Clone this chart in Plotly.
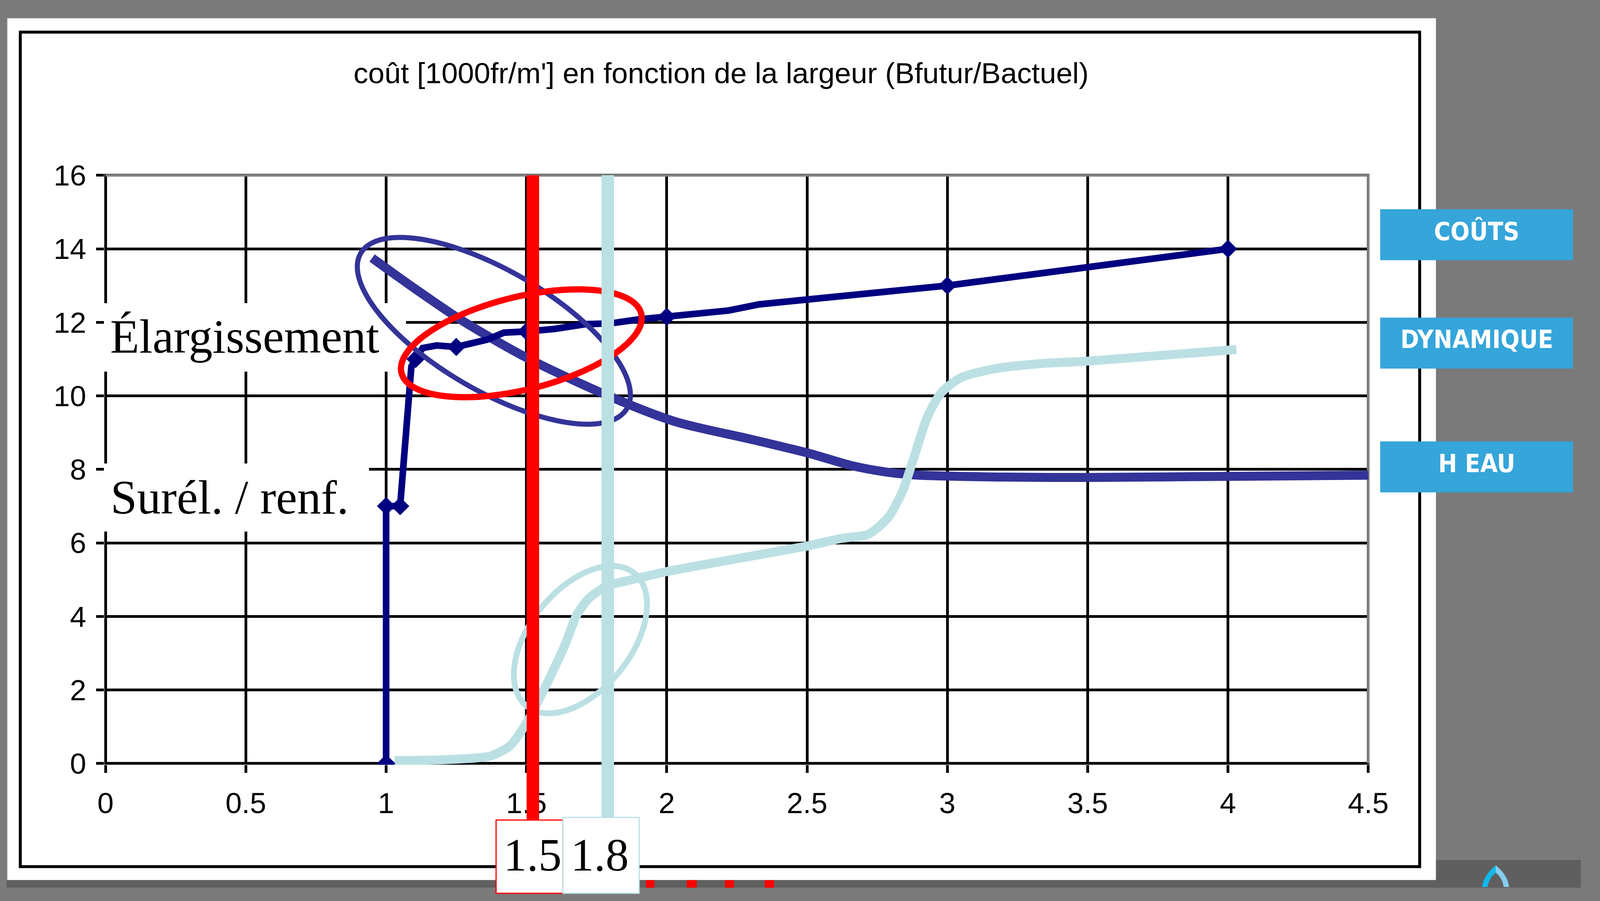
import math
import plotly.graph_objects as go

# ---------------- data ----------------
TITLE = "coût [1000fr/m'] en fonction de la largeur (Bfutur/Bactuel)"

cost_x = [1.0, 1.0, 1.05, 1.06, 1.07, 1.08, 1.09, 1.105, 1.13, 1.18, 1.25, 1.36, 1.42, 1.50,
          1.60, 1.71, 1.80, 1.90, 2.00, 2.22, 2.33, 2.73, 2.87, 3.00, 4.00]
cost_y = [0.0, 7.0, 7.0, 8.1, 9.0, 10.0, 10.8, 11.0, 11.3, 11.37, 11.33, 11.53, 11.72, 11.75,
          11.82, 11.95, 11.97, 12.08, 12.15, 12.32, 12.49, 12.79, 12.88, 13.0, 14.0]
cost_marker_x = [1.0, 1.0, 1.05, 1.105, 1.25, 1.50, 2.0, 3.0, 4.0]
cost_marker_y = [0.0, 7.0, 7.0, 11.0, 11.33, 11.75, 12.15, 13.0, 14.0]

dyn_x = [0.95, 1.10, 1.27, 1.50, 1.78, 2.03, 2.30, 2.51, 2.66, 2.78, 2.88, 3.20, 3.50, 4.00, 4.50]
dyn_y = [13.75, 12.93, 12.05, 11.04, 10.04, 9.30, 8.82, 8.43, 8.10, 7.93, 7.85, 7.79, 7.78, 7.81, 7.84]

heau_x = [1.03, 1.20, 1.37, 1.44, 1.50, 1.565, 1.636, 1.68, 1.724, 1.79, 1.86, 2.00, 2.25, 2.51,
          2.62, 2.72, 2.79, 2.84, 2.88, 2.93, 2.98, 3.05, 3.17, 3.32, 3.51, 4.03]
heau_y = [0.08, 0.10, 0.20, 0.47, 1.10, 2.05, 3.20, 4.05, 4.50, 4.84, 4.97, 5.22, 5.57, 5.93,
          6.12, 6.24, 6.70, 7.40, 8.30, 9.45, 10.10, 10.50, 10.74, 10.87, 10.95, 11.26]

x_tick_vals = [0, 0.5, 1, 1.5, 2, 2.5, 3, 3.5, 4, 4.5]
x_tick_text = ["0", "0.5", "1", "1.5", "2", "2.5", "3", "3.5", "4", "4.5"]
y_tick_vals = [0, 2, 4, 6, 8, 10, 12, 14, 16]
y_tick_text = ["0", "2", "4", "6", "8", "10", "12", "14", "16"]

mark_values = [1.523, 1.79]
mark_labels = ["1.5", "1.8"]
zone_labels = ["Élargissement", "Surél. / renf."]
side_labels = ["COÛTS", "DYNAMIQUE", "H EAU"]

# ---------------- geometry (reference pixels) ----------------
W, H = 4236, 2307
X0PX, PXU = 266.0, 755.1
Y0PX, PYU = 1983.0, 97.375
HALF = 3.5
PADX, PADY = HALF / PXU, HALF / PYU
XR = [-PADX, 4.5 + PADX]
YR = [-PADY, 16 + PADY]
XDOM = [(X0PX - HALF) / W, (X0PX + 4.5 * PXU + HALF) / W]
YDOM = [1 - (Y0PX + HALF) / H, 1 - (Y0PX - 16 * PYU - HALF) / H]


def fx(p):
    return p / W


def fy(p):
    return 1 - p / H


def data_x_to_paper(x):
    return XDOM[0] + (x - XR[0]) / (XR[1] - XR[0]) * (XDOM[1] - XDOM[0])


def ellipse_path(cx, cy, a, b, theta_deg, n=180):
    th = math.radians(theta_deg)
    pts = []
    for i in range(n):
        t = 2 * math.pi * i / n
        x = cx + a * math.cos(t) * math.cos(th) - b * math.sin(t) * math.sin(th)
        y = cy + a * math.cos(t) * math.sin(th) + b * math.sin(t) * math.cos(th)
        pts.append(f"{fx(x):.6f},{fy(y):.6f}")
    return "M" + " L".join(pts) + " Z"


def prect(x0, x1, y0, y1, fill, layer="below", line=None):
    d = dict(type="rect", xref="paper", yref="paper", x0=fx(x0), x1=fx(x1),
             y0=fy(y1), y1=fy(y0), fillcolor=fill, layer=layer)
    d["line"] = line if line else dict(width=0)
    return d


NAVY = "#000080"
DYN = "#333399"
HEAU = "#BBE0E3"
RED = "#FF0000"
BTN = "#35A5DA"

fig = go.Figure()
fig.add_trace(go.Scatter(x=dyn_x, y=dyn_y, mode="lines",
                         line=dict(color=DYN, width=23, shape="spline", smoothing=0.8),
                         hoverinfo="skip"))
fig.add_trace(go.Scatter(x=heau_x, y=heau_y, mode="lines",
                         line=dict(color=HEAU, width=23, shape="spline", smoothing=0.7),
                         hoverinfo="skip"))
fig.add_trace(go.Scatter(x=cost_x, y=cost_y, mode="lines",
                         line=dict(color=NAVY, width=17), hoverinfo="skip"))
fig.add_trace(go.Scatter(x=cost_marker_x, y=cost_marker_y, mode="markers",
                         marker=dict(symbol="diamond", size=36, color=NAVY, line=dict(width=0)),
                         hoverinfo="skip"))

shapes = []
# slide background pieces
shapes.append(prect(0, 3846, 9, 2292, "white"))
shapes.append(prect(0, 2, 9, 2292, "#8a8a8a"))
shapes.append(prect(3846, W, 2239, H + 5, "#5f5f5f"))
shapes.append(prect(0, W, 2292, H + 5, "#5f5f5f"))
for a, b in [(1720, 1743), (1830, 1857), (1933, 1957), (2040, 2065)]:
    shapes.append(prect(a, b, 2292, H + 5, RED))
shapes.append(dict(type="path", xref="paper", yref="paper", layer="below",
                   path=f"M{fx(4007)},{fy(2253)} Q{fx(3975)},{fy(2278)} {fx(3970)},{fy(2310)} "
                        f"L{fx(3985)},{fy(2310)} Q{fx(3988)},{fy(2288)} {fx(4007)},{fy(2272)} Z",
                   fillcolor="#12B8EA", line=dict(width=0)))
shapes.append(dict(type="path", xref="paper", yref="paper", layer="below",
                   path=f"M{fx(4007)},{fy(2253)} Q{fx(4039)},{fy(2278)} {fx(4043)},{fy(2310)} "
                        f"L{fx(4028)},{fy(2310)} Q{fx(4026)},{fy(2288)} {fx(4007)},{fy(2272)} Z",
                   fillcolor="#86CDF0", line=dict(width=0)))
# black frame round the chart
shapes.append(dict(type="rect", xref="paper", yref="paper", layer="below",
                   x0=fx(36.75), x1=fx(3802.25), y0=fy(2256.25), y1=fy(45.75),
                   fillcolor="rgba(0,0,0,0)", line=dict(color="black", width=7.5)))
# side buttons
for (t0, t1) in [(515, 650), (802, 937), (1130, 1265)]:
    shapes.append(prect(3696, 4215, t0, t1, BTN))

# white text boxes hiding the grid
for (xa, xb, ya, yb) in [(-0.02, 1.071, 10.66, 12.52), (-0.02, 0.939, 6.31, 8.16)]:
    shapes.append(dict(type="rect", xref="x", yref="y", layer="between",
                       x0=xa, x1=xb, y0=ya, y1=yb, fillcolor="white", line=dict(width=0)))
# grey plot-area border (top and right)
shapes.append(dict(type="line", xref="x", yref="y", layer="between",
                   x0=0, x1=4.5 + PADX, y0=16, y1=16, line=dict(color="#808080", width=7)))
shapes.append(dict(type="line", xref="x", yref="y", layer="between",
                   x0=4.5, x1=4.5, y0=0, y1=16 + PADY, line=dict(color="#808080", width=7)))

# highlight ellipses
shapes.append(dict(type="path", xref="paper", yref="paper", layer="above",
                   path=ellipse_path(1311, 837, 413, 160, 29.7),
                   line=dict(color=DYN, width=13), fillcolor="rgba(0,0,0,0)"))
shapes.append(dict(type="path", xref="paper", yref="paper", layer="above",
                   path=ellipse_path(1385, 870, 332, 123, -13.6),
                   line=dict(color=RED, width=16), fillcolor="rgba(0,0,0,0)"))
shapes.append(dict(type="path", xref="paper", yref="paper", layer="above",
                   path=ellipse_path(1544, 1655, 228, 135, -50.1),
                   line=dict(color=HEAU, width=15), fillcolor="rgba(0,0,0,0)"))

# vertical marker lines and label boxes
mark_colors = [RED, HEAU]
line_bottoms = [2133, 2126]
boxes = [(1317, 1497, 2133), (1497, 1702, 2126)]
for v, c, yb in zip(mark_values, mark_colors, line_bottoms):
    xp = data_x_to_paper(v)
    shapes.append(dict(type="line", xref="paper", yref="paper", layer="above",
                       x0=xp, x1=xp, y0=fy(Y0PX - 16 * PYU), y1=fy(yb),
                       line=dict(color=c, width=32)))
for (a, b, top), c in zip(boxes, mark_colors):
    shapes.append(prect(a, b, top, H + 20, "white", layer="above",
                        line=dict(color=c, width=3)))

annotations = []
annotations.append(dict(text=TITLE, xref="paper", yref="paper", x=fx(1923), y=fy(200),
                        xanchor="center", yanchor="bottom", showarrow=False,
                        font=dict(family="Liberation Sans, Arial", size=75, color="black")))
for lab, xl, yb in zip(zone_labels, [276.5, 278], [924, 1350]):
    annotations.append(dict(text=lab, xref="paper", yref="paper", x=fx(xl), y=fy(yb),
                            xanchor="left", yanchor="bottom", showarrow=False,
                            font=dict(family="Liberation Serif, Times New Roman, serif",
                                      size=122, color="black")))
for lab, xc in zip(mark_labels, [1415, 1596]):
    annotations.append(dict(text=lab, xref="paper", yref="paper", x=fx(xc), y=fy(2296),
                            xanchor="center", yanchor="bottom", showarrow=False,
                            font=dict(family="Liberation Serif, Times New Roman, serif",
                                      size=119, color="black")))
for lab, yb in zip(side_labels, [614, 900, 1229]):
    annotations.append(dict(text="<b>" + lab + "</b>", xref="paper", yref="paper",
                            x=fx(3955.5), y=fy(yb), xanchor="center", yanchor="bottom",
                            showarrow=False,
                            font=dict(family="DejaVu Sans Condensed, DejaVu Sans, sans-serif",
                                      size=64, color="white")))

axis_common = dict(showgrid=True, gridcolor="black", gridwidth=7, zeroline=False,
                   showline=False, ticks="outside", ticklen=20, tickwidth=7,
                   tickcolor="black", fixedrange=True,
                   tickfont=dict(family="Liberation Sans, Arial", size=75, color="black"))

fig.update_layout(
    autosize=True,
    margin=dict(l=0, r=0, t=0, b=0, pad=0),
    paper_bgcolor="#7a7a7a", plot_bgcolor="white",
    showlegend=False,
    xaxis=dict(domain=XDOM, range=XR, tickmode="array", tickvals=x_tick_vals,
               ticktext=x_tick_text, ticklabelstandoff=13, **axis_common),
    yaxis=dict(domain=YDOM, range=YR, tickmode="array", tickvals=y_tick_vals,
               ticktext=y_tick_text, ticklabelstandoff=10, **axis_common),
    shapes=shapes,
    annotations=annotations,
)

POST = ("document.documentElement.style.margin='0';document.body.style.margin='0';"
        "document.body.style.overflow='hidden';document.documentElement.style.overflow='hidden';"
        "var gd=document.getElementById('{plot_id}');gd.style.width='100vw';gd.style.height='100vh';"
        "Plotly.Plots.resize(gd);")

fig.write_html("out.html", default_width="100vw", default_height="100vh",
               config={"responsive": True, "displayModeBar": False}, post_script=POST)
